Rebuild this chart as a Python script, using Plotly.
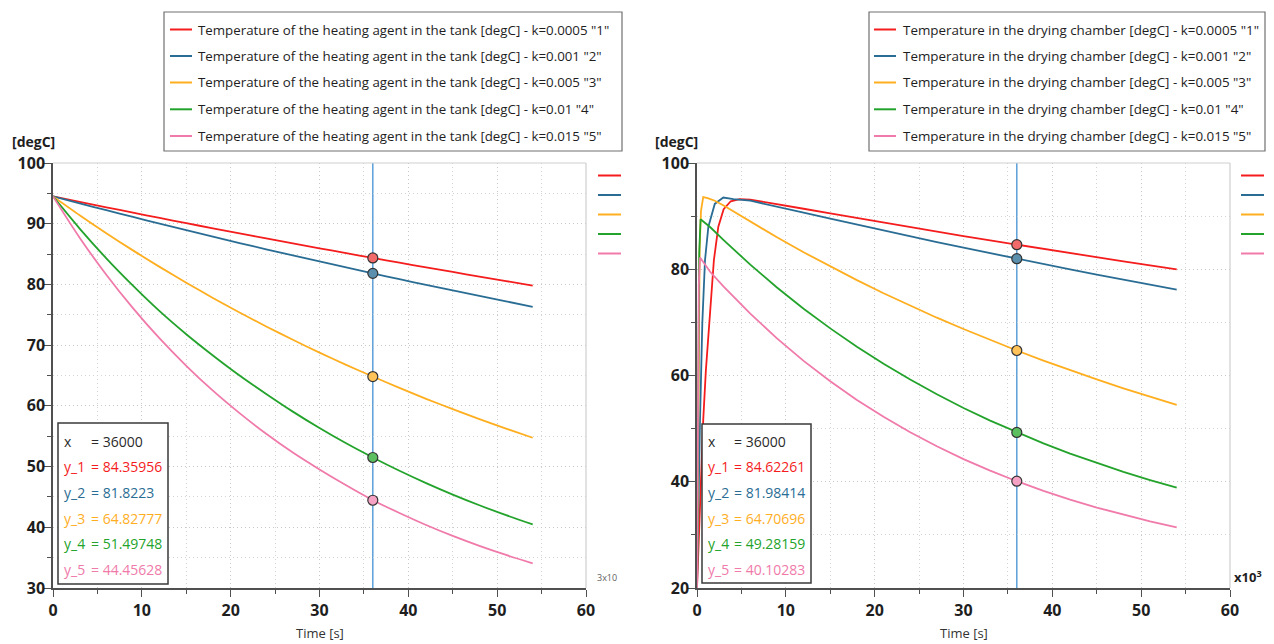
import plotly.graph_objects as go

W, H = 1274, 644

# ---------------- data (time in 10^3 s) ----------------
series_names_left = [
    'Temperature of the heating agent in the tank [degC] - k=0.0005 "1"',
    'Temperature of the heating agent in the tank [degC] - k=0.001 "2"',
    'Temperature of the heating agent in the tank [degC] - k=0.005 "3"',
    'Temperature of the heating agent in the tank [degC] - k=0.01 "4"',
    'Temperature of the heating agent in the tank [degC] - k=0.015 "5"',
]
series_names_right = [
    'Temperature in the drying chamber [degC] - k=0.0005 "1"',
    'Temperature in the drying chamber [degC] - k=0.001 "2"',
    'Temperature in the drying chamber [degC] - k=0.005 "3"',
    'Temperature in the drying chamber [degC] - k=0.01 "4"',
    'Temperature in the drying chamber [degC] - k=0.015 "5"',
]
colors = ["#f41c1c", "#2a6d94", "#ffae1f", "#23a32b", "#f07aaa"]
marker_fill = ["#f26a6a", "#5a90ae", "#ffc35a", "#5cc060", "#f6a2c4"]

t_left = [0, 3, 6, 9, 12, 15, 18, 21, 24, 27, 30, 33, 36, 39, 42, 45, 48, 51, 54]
tank_1 = [94.5, 93.60, 92.71, 91.82, 90.95, 90.09, 89.24, 88.40, 87.58, 86.76, 85.95, 85.15, 84.36, 83.58, 82.81, 82.05, 81.29, 80.55, 79.82]
tank_2 = [94.5, 93.35, 92.22, 91.11, 90.01, 88.93, 87.87, 86.82, 85.79, 84.78, 83.78, 82.80, 81.82, 80.87, 79.93, 79.01, 78.10, 77.21, 76.32]
tank_3 = [94.5, 91.41, 88.45, 85.61, 82.89, 80.28, 77.78, 75.38, 73.08, 70.88, 68.77, 66.75, 64.83, 62.95, 61.16, 59.46, 57.82, 56.25, 54.75]
tank_4 = [94.5, 89.20, 84.30, 79.80, 75.60, 71.80, 68.30, 65.00, 61.96, 59.05, 56.35, 53.83, 51.50, 49.31, 47.28, 45.39, 43.63, 42.00, 40.47]
tank_5 = [94.5, 87.70, 81.60, 76.10, 71.10, 66.60, 62.50, 58.80, 55.40, 52.30, 49.52, 46.91, 44.46, 42.36, 40.38, 38.58, 36.94, 35.44, 34.07]

t_tail = [6, 9, 12, 15, 18, 21, 24, 27, 30, 33, 36, 39, 42, 45, 48, 51, 54]
t_ch_1 = [0, 0.35, 0.7, 1.0, 1.4, 1.9, 2.4, 3.0, 3.8, 4.8] + t_tail
t_ch_2 = [0, 0.15, 0.34, 0.6, 0.9, 1.28, 2.0, 2.96, 4.1] + t_tail
t_ch_3 = [0, 0.1, 0.2, 0.3, 0.45, 0.7, 1.2, 2.0, 3.0] + t_tail
t_ch_4 = [0, 0.08, 0.16, 0.25, 0.4, 1.5, 3.0] + t_tail
t_ch_5 = [0, 0.06, 0.12, 0.2, 0.34, 1.5, 3.0] + t_tail
chamber_1 = [20, 36, 51.6, 61, 70.4, 81.7, 88, 91.3, 92.8, 93.2,
             93.1, 92.29, 91.39, 90.50, 89.63, 88.77, 87.92, 87.08, 86.25, 85.43, 84.62, 83.82, 83.03, 82.25, 81.48, 80.72, 79.97]
chamber_2 = [20, 35, 51.6, 70, 81.7, 88, 92.3, 93.5, 93.2,
             92.9, 91.83, 90.67, 89.52, 88.39, 87.28, 86.19, 85.11, 84.05, 83.00, 81.98, 80.97, 79.98, 79.01, 78.05, 77.10, 76.18]
chamber_3 = [20, 45, 68, 84, 91, 93.6, 93.4, 92.9, 92.0,
             88.93, 86.01, 83.20, 80.52, 77.95, 75.49, 73.13, 70.88, 68.76, 66.69, 64.71, 62.81, 61.00, 59.26, 57.59, 56.00, 54.47]
chamber_4 = [20, 45, 70, 83, 89.4, 87.9, 85.49,
             80.86, 76.57, 72.58, 68.87, 65.42, 62.22, 59.24, 56.47, 53.89, 51.50, 49.28, 47.21, 45.29, 43.51, 41.85, 40.31, 38.88]
chamber_5 = [20, 45, 65, 77, 82.2, 79.48, 76.75,
             71.64, 66.99, 62.76, 58.91, 55.40, 52.22, 49.32, 46.68, 44.27, 42.09, 40.10, 38.29, 36.64, 35.15, 33.78, 32.54, 31.41]

cursor_x = 36
cursor_left = [84.35956, 81.8223, 64.82777, 51.49748, 44.45628]
cursor_right = [84.62261, 81.98414, 64.70696, 49.28159, 40.10283]

left_x = [t_left] * 5
left_y = [tank_1, tank_2, tank_3, tank_4, tank_5]
right_x = [t_ch_1, t_ch_2, t_ch_3, t_ch_4, t_ch_5]
right_y = [chamber_1, chamber_2, chamber_3, chamber_4, chamber_5]

# ---------------- helpers ----------------
def px(x):
    return x / W

def py(y):
    return 1 - y / H

FONT = "Open Sans, Noto Sans, sans-serif"
DOT = "1px,3px"

fig = go.Figure()

for i in range(5):
    fig.add_trace(go.Scatter(x=left_x[i], y=left_y[i], mode="lines",
                             line=dict(color=colors[i], width=1.8, shape="spline", smoothing=0.8),
                             xaxis="x", yaxis="y", showlegend=False, hoverinfo="skip"))
for i in range(5):
    fig.add_trace(go.Scatter(x=right_x[i], y=right_y[i], mode="lines",
                             line=dict(color=colors[i], width=1.8),
                             xaxis="x2", yaxis="y2", showlegend=False, hoverinfo="skip"))

# cursor markers
fig.add_trace(go.Scatter(x=[cursor_x] * 5, y=cursor_left, mode="markers",
                         marker=dict(size=10, color=marker_fill, line=dict(color="#333333", width=1.2)),
                         xaxis="x", yaxis="y", showlegend=False, hoverinfo="skip"))
fig.add_trace(go.Scatter(x=[cursor_x] * 5, y=cursor_right, mode="markers",
                         marker=dict(size=10, color=marker_fill, line=dict(color="#333333", width=1.2)),
                         xaxis="x2", yaxis="y2", showlegend=False, hoverinfo="skip"))

axis_common = dict(
    showline=True, linecolor="#505050", linewidth=1.5,
    ticks="outside", tickcolor="#505050", tickwidth=1.2,
    showgrid=True, gridcolor="#c8c8c8", griddash=DOT, gridwidth=1,
    zeroline=False, automargin=False,
    tickfont=dict(family=FONT, size=16, color="#1e1e1e", weight="bold"),
)

def minor(d):
    return dict(dtick=d, ticklen=4, tickcolor="#505050", showgrid=True,
                gridcolor="#d4d4d4", griddash=DOT, gridwidth=1)

xdomL = [px(53), px(586)]
xdomR = [px(697), px(1230)]
ydom = [py(588), py(163)]

fig.update_layout(
    template="none",
    width=W, height=H,
    margin=dict(l=0, r=0, t=0, b=0, pad=0),
    paper_bgcolor="white", plot_bgcolor="white",
    xaxis=dict(domain=xdomL, range=[0, 60], dtick=10, tick0=0, ticklen=7, minor=minor(5),
               anchor="y", **axis_common),
    yaxis=dict(domain=ydom, range=[30, 100], dtick=10, tick0=0, ticklen=8, minor=minor(5),
               anchor="x", ticklabelstandoff=-5, **axis_common),
    xaxis2=dict(domain=xdomR, range=[0, 60], dtick=10, tick0=0, ticklen=7, minor=minor(5),
                anchor="y2", **axis_common),
    yaxis2=dict(domain=ydom, range=[20, 100], dtick=20, tick0=0, ticklen=8, minor=minor(10),
                anchor="x2", ticklabelstandoff=-5, **axis_common),
)

shapes = []
annotations = []

# light top/right frame
for xd in (xdomL, xdomR):
    shapes.append(dict(type="line", xref="paper", yref="paper", x0=xd[0], x1=xd[1], y0=ydom[1], y1=ydom[1],
                       line=dict(color="#cfcfcf", width=1.2)))
    shapes.append(dict(type="line", xref="paper", yref="paper", x0=xd[1], x1=xd[1], y0=ydom[0], y1=ydom[1],
                       line=dict(color="#cfcfcf", width=1.2)))

# cursor lines
for xr, yr in (("x", "y domain"), ("x2", "y2 domain")):
    shapes.append(dict(type="line", xref=xr, yref=yr, x0=cursor_x, x1=cursor_x, y0=0, y1=1,
                       line=dict(color="#5b9fd8", width=1.5), layer="below"))

# legend boxes (top)
def legend_box(x0, x1, y0, y1, line_x0, text_x, names, size):
    shapes.append(dict(type="rect", xref="paper", yref="paper", x0=px(x0), x1=px(x1), y0=py(y1), y1=py(y0),
                       line=dict(color="#707070", width=1.2), fillcolor="white"))
    ys = [29.5, 56, 82.5, 109.3, 136]
    for i, name in enumerate(names):
        shapes.append(dict(type="line", xref="paper", yref="paper", x0=px(line_x0), x1=px(line_x0 + 22),
                           y0=py(ys[i]), y1=py(ys[i]), line=dict(color=colors[i], width=2)))
        annotations.append(dict(xref="paper", yref="paper", x=px(text_x), y=py(ys[i]), text=name,
                                showarrow=False, xanchor="left", yanchor="middle",
                                font=dict(family=FONT, size=size, color="#1e1e1e")))

legend_box(164, 622, 12, 151, 170, 196, series_names_left, 13.3)
legend_box(869, 1265, 12, 151, 874, 901, series_names_right, 13.4)

# short colour marks at right of plots
for xs in (598, 1241):
    for i, yy in enumerate([175.5, 195, 214.5, 234, 253.5]):
        shapes.append(dict(type="line", xref="paper", yref="paper", x0=px(xs), x1=px(xs + 23),
                           y0=py(yy), y1=py(yy), line=dict(color=colors[i], width=2)))

# cursor value boxes
def value_box(x0, x1, y0, y1, tx, ex, values):
    shapes.append(dict(type="rect", xref="paper", yref="paper", x0=px(x0), x1=px(x1), y0=py(y1), y1=py(y0),
                       line=dict(color="#3a3a3a", width=1.5), fillcolor="white", layer="above"))
    rows = [441.5, 467, 492.5, 518, 543.5, 569]
    labels = ["x"] + ["y_%d" % (i + 1) for i in range(5)]
    vals = ["%d" % (cursor_x * 1000)] + [("%.5f" % v).rstrip("0") for v in values]
    cols = ["#2a2a2a"] + colors
    for lab, val, c, yy in zip(labels, vals, cols, rows):
        annotations.append(dict(xref="paper", yref="paper", x=px(tx), y=py(yy), text=lab, showarrow=False,
                                xanchor="left", yanchor="middle", font=dict(family=FONT, size=14, color=c)))
        annotations.append(dict(xref="paper", yref="paper", x=px(ex), y=py(yy), text="= " + val, showarrow=False,
                                xanchor="left", yanchor="middle", font=dict(family=FONT, size=14, color=c)))

value_box(58, 168, 423, 584, 62, 89, cursor_left)
value_box(702, 811, 424, 583, 706, 732, cursor_right)

# axis titles
for xx in (10, 653):
    annotations.append(dict(xref="paper", yref="paper", x=px(xx), y=py(141), text="[degC]", showarrow=False,
                            xanchor="left", yanchor="middle",
                            font=dict(family=FONT, size=14, color="#1e1e1e", weight="bold")))
for xx in (320, 964):
    annotations.append(dict(xref="paper", yref="paper", x=px(xx), y=py(633), text="Time [s]", showarrow=False,
                            xanchor="center", yanchor="middle",
                            font=dict(family=FONT, size=13, color="#333333")))
annotations.append(dict(xref="paper", yref="paper", x=px(595), y=py(577), text="3x10", showarrow=False,
                        xanchor="left", yanchor="middle", font=dict(family=FONT, size=9, color="#606060")))
annotations.append(dict(xref="paper", yref="paper", x=px(1232), y=py(576), text="x10<sup>3</sup>", showarrow=False,
                        xanchor="left", yanchor="middle",
                        font=dict(family=FONT, size=13, color="#1e1e1e", weight="bold")))

fig.update_layout(shapes=shapes, annotations=annotations)
fig.write_html("out.html", config={"displayModeBar": False},
               post_script="document.body.style.margin='0px';document.body.style.overflow='hidden';")
